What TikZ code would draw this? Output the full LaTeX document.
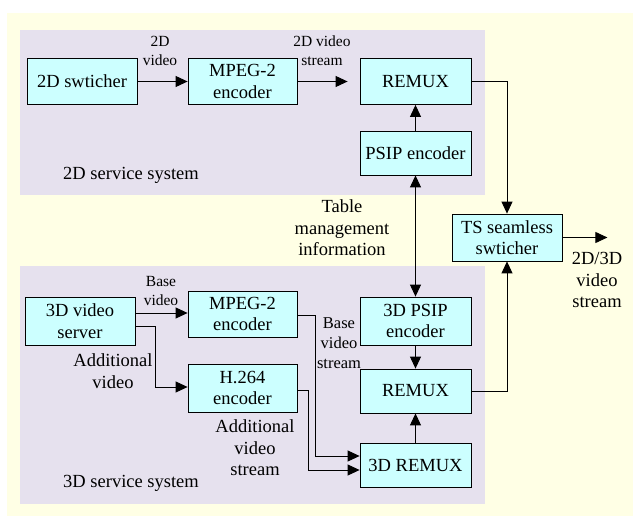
\documentclass[tikz,border=0pt]{standalone}
\usepackage{fontspec}
\setmainfont{Liberation Serif}
\usetikzlibrary{arrows.meta,calc}
\definecolor{paper}{RGB}{255,255,229}
\definecolor{zone}{RGB}{230,225,238}
\definecolor{boxfill}{RGB}{204,255,255}
\tikzset{
  blk/.style={draw=black, line width=0.8pt, fill=boxfill, minimum width=110pt,
    minimum height=46pt, inner sep=0pt, align=center,
    font=\fontsize{18.5}{21.5}\selectfont},
  lbl/.style={inner sep=0pt, align=center, font=\fontsize{18.5}{21.5}\selectfont},
  slbl/.style={inner sep=0pt, align=center, font=\fontsize{15.5}{19}\selectfont},
  link/.style={line width=0.9pt, -{Triangle[length=12pt,width=11pt]}},
  plain/.style={line width=0.9pt},
}
\begin{document}
\begin{tikzpicture}[x=1pt,y=-1pt]
\useasboundingbox (0,0) rectangle (633,516);
% backgrounds
\fill[paper] (7,13) rectangle (633,516);
\fill[zone] (20,30) rectangle (485,195);
\fill[zone] (20,266) rectangle (485,504);

% 2D service system
\node[blk] (sw2d) at (82,81.5) {2D swticher};
\node[blk, minimum width=109pt] (mp2a) at (242.5,81.5) {MPEG-2\\encoder};
\node[blk, minimum width=111pt] (rx2d) at (415.5,81.5) {REMUX};
\node[blk, minimum width=111pt, minimum height=44pt] (psip) at (415.5,153) {PSIP encoder};
\node[lbl, anchor=west] (t2d) at (63,175) {2D service system};

% TS switcher
\node[blk, minimum height=47pt] (ts) at (507,237.5) {TS seamless\\swticher};

% 3D service system
\node[blk, minimum height=48pt] (srv) at (80,321) {3D video\\server};
\node[blk, minimum width=109pt] (mp2b) at (242.5,314) {MPEG-2\\encoder};
\node[blk, minimum width=109pt, minimum height=48pt] (h264) at (242.5,388) {H.264\\encoder};
\node[blk, minimum width=111pt, minimum height=48pt] (psip3) at (415.5,321) {3D PSIP\\encoder};
\node[blk, minimum width=111pt, minimum height=44pt] (rx3) at (415.5,391) {REMUX};
\node[blk, minimum width=111pt, minimum height=44pt] (rx3d) at (415.5,465) {3D REMUX};
\node[lbl, anchor=west] (t3d) at (63,483) {3D service system};

% labels
\node[slbl] (l1) at (160,50.5) {2D\\video};
\node[slbl] (l2) at (322,50.5) {2D video\\stream};
\node[lbl] (l3) at (342,228) {Table\\management\\information};
\node[lbl] (l4) at (597,280) {2D/3D\\video\\stream};
\node[slbl] (l5) at (161,291) {Base\\video};
\node[lbl] (l6) at (113,371) {Additional\\video};
\node[lbl] (l7) at (255,448) {Additional\\video\\stream};
\node[slbl, font=\fontsize{16.5}{20}\selectfont] (l8) at (339,343) {Base\\video\\stream};

% 2D connectors
\draw[link] (sw2d) -- (mp2a);
\draw[link, shorten >=12pt] (mp2a) -- (rx2d);
\draw[link] (psip) -- (rx2d);
\draw[link] (rx2d.east) -| (ts.north);
\draw[line width=0.9pt, {Triangle[length=12pt,width=11pt]}-{Triangle[length=12pt,width=11pt]}] (psip) -- (psip3);
\draw[link] (ts.east) -- ++(45,0) coordinate (out);

% 3D connectors
\draw[link] ($(srv.east)+(0,-8)$) -- ($(mp2b.west)+(0,-1)$);
\draw[link] ($(srv.east)+(0,5)$) -| (155,387) -- ($(h264.west)+(0,-1)$);
\draw[link] ($(mp2b.east)+(0,1)$) -| (315,456) -- ($(rx3d.west)+(0,-9)$);
\draw[link] ($(h264.east)+(0,2)$) -| (308,470) -- ($(rx3d.west)+(0,5)$);
\draw[link] (psip3) -- (rx3);
\draw[link] (rx3d) -- (rx3);
\draw[link] (rx3.east) -| (ts.south);
\end{tikzpicture}
\end{document}
